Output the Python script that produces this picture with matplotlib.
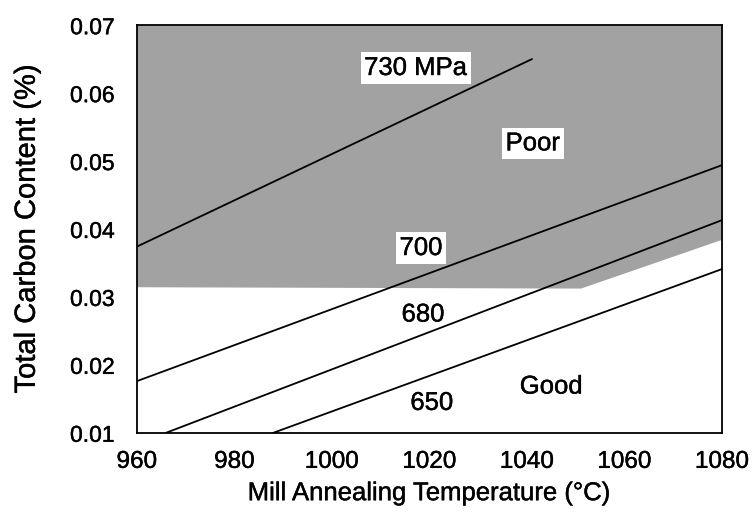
import matplotlib.pyplot as plt
import matplotlib.patheffects as pe

plt.rcParams['font.family'] = ['Liberation Sans', 'DejaVu Sans']
# slightly heavier strokes on all lettering
heavy = [pe.withStroke(linewidth=0.3, foreground='black')]

# strength contours: (temperature, carbon) end points
strength_labels = ['730 MPa', '700', '680', '650']
line_temps = [[960, 1041], [960, 1080], [966, 1080], [988, 1080]]
line_carbon = [[0.0374, 0.0650], [0.0176, 0.0494], [0.0100, 0.0413], [0.0100, 0.0341]]

# lower edge of the "Poor" region
poor_temps = [960, 1051, 1080]
poor_floor = [0.0315, 0.0313, 0.0385]

# label positions
label_text = ['730 MPa', 'Poor', '700', '680', 'Good', '650']
label_x = [1017.2, 1041.2, 1018.3, 1018.7, 1045.0, 1020.5]
label_y = [0.0637, 0.0526, 0.0372, 0.0274, 0.0168, 0.0144]
label_boxed = [True, True, True, False, False, False]

fig = plt.figure(figsize=(7.56, 5.14), dpi=100)
ax = fig.add_axes([0.181, 0.158, 0.774, 0.793])

ax.fill_between(poor_temps, poor_floor, 0.07, color='#a2a2a2', lw=0)

for xs, ys in zip(line_temps, line_carbon):
    ax.plot(xs, ys, color='black', lw=1.3)

for t, x, y, boxed in zip(label_text, label_x, label_y, label_boxed):
    bbox = dict(facecolor='white', edgecolor='none', pad=2.5) if boxed else None
    ax.text(x, y, t, fontsize=18.5, ha='center', va='center', bbox=bbox,
            path_effects=heavy)

ax.set_xlim(960, 1080)
ax.set_ylim(0.01, 0.07)
ax.set_xticks([960, 980, 1000, 1020, 1040, 1060, 1080])
ax.set_yticks([0.01, 0.02, 0.03, 0.04, 0.05, 0.06, 0.07])
ax.set_yticklabels(['0.01', '0.02', '0.03', '0.04', '0.05', '0.06', '0.07'])
ax.tick_params(length=0)
ax.tick_params(axis='x', labelsize=17.5, pad=13)
ax.tick_params(axis='y', labelsize=16.5, pad=16)
for s in ax.spines.values():
    s.set_linewidth(1.3)

ax.set_xlabel('Mill Annealing Temperature (°C)', fontsize=18.5, labelpad=6,
              path_effects=heavy)
ax.set_ylabel('Total Carbon Content (%)', fontsize=21, labelpad=21,
              path_effects=heavy)
for lbl in ax.get_xticklabels() + ax.get_yticklabels():
    lbl.set_path_effects(heavy)

fig.savefig('out.png', dpi=100)
